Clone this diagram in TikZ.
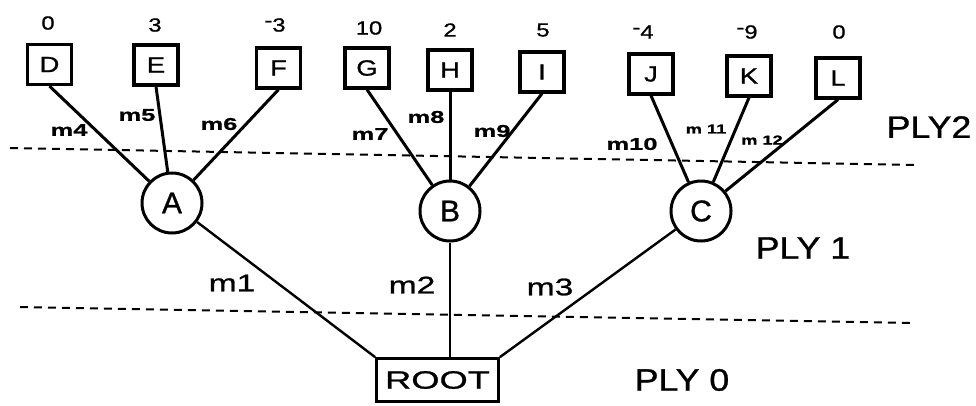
\documentclass[tikz,border=0pt]{standalone}
\usepackage{fontspec}
\setmainfont{Liberation Sans}
\newcommand{\stretchfont}[2]{\fontsize{#1}{#1}\selectfont\addfontfeature{FakeStretch=#2,FakeBold=1}}
\begin{document}
\begin{tikzpicture}[x=1pt,y=-1pt,
  leaf/.style={draw, line width=3.2pt, minimum width=44pt, minimum height=40pt, inner sep=0pt, font=\stretchfont{22}{1.25}},
  state/.style={draw, circle, line width=3pt, minimum size=60pt, inner sep=0pt, font=\stretchfont{30}{1.0}},
  rootbox/.style={draw, line width=2.8pt, minimum width=122pt, minimum height=43pt, inner sep=0pt, font=\stretchfont{25}{1.45}},
  edgeline/.style={line width=3pt},
  lowedge/.style={line width=2.4pt},
  val/.style={font=\stretchfont{19}{1.25}},
  mlab/.style={font=\bfseries\stretchfont{17}{1.5}},
  msmall/.style={font=\bfseries\stretchfont{13}{1.4}},
  mbig/.style={font=\stretchfont{24}{1.4}},
  plylab/.style={font=\stretchfont{31}{1.15}},
  plyline/.style={line width=2pt, dash pattern=on 8pt off 6pt}
]
\useasboundingbox (0,0) rectangle (976,405);

% ply separators
\coordinate (u1) at (10,148);
\coordinate (u2) at (915,165);
\coordinate (l1) at (20,307);
\coordinate (l2) at (913,323);
\draw[plyline] (u1) -- (u2);
\draw[plyline] (l1) -- (l2);

% leaves
\node[leaf] (D) at (49.5,64.5) {D};
\node[leaf] (E) at (156,65) {E};
\node[leaf] (F) at (278.5,68) {F};
\node[leaf] (G) at (367,68) {G};
\node[leaf] (H) at (450,70) {H};
\node[leaf] (I) at (542,72) {I};
\node[leaf] (J) at (651,74) {J};
\node[leaf] (K) at (749,76) {K};
\node[leaf] (L) at (838,78) {L};

% values
\node[val] (vD) at (48,23) {0};
\node[val] (vE) at (155,25) {3};
\node[val] (vF) at (275,25) {\raisebox{0.25em}{-}3};
\node[val] (vG) at (369,28) {10};
\node[val] (vH) at (450,30) {2};
\node[val] (vI) at (543,30) {5};
\node[val] (vJ) at (643,32) {\raisebox{0.25em}{-}4};
\node[val] (vK) at (747,32) {\raisebox{0.25em}{-}9};
\node[val] (vL) at (839,32) {0};

% ply-1 states
\node[state] (A) at (172,203) {A};
\node[state] (B) at (450,211) {B};
\node[state] (C) at (701,211) {C};

% root
\node[rootbox] (R) at (437.5,380) {ROOT};

% edges leaves -> states
\draw[edgeline] (D.south) -- (A);
\draw[edgeline] (E.south) -- (A);
\draw[edgeline] (F.south) -- (A);
\draw[edgeline] (G.south) -- (B);
\draw[edgeline] (H.south) -- (B.north);
\draw[edgeline] (I.south) -- (B);
\draw[edgeline] (J.south) -- (C);
\draw[edgeline] (K.south) -- (C);
\draw[edgeline] (L.south) -- (C);

% edges states -> root
\draw[lowedge] (A) -- (R.north west);
\draw[lowedge] (B.south) -- (B.south |- R.north);
\draw[lowedge] (C) -- (R.north east);

% move labels
\node[mlab] (m4) at (69,130) {m4};
\node[mlab] (m5) at (137,115) {m5};
\node[mlab] (m6) at (219,124) {m6};
\node[mlab] (m7) at (370,134) {m7};
\node[mlab] (m8) at (426,117) {m8};
\node[mlab] (m9) at (492,131) {m9};
\node[mlab] (m10) at (632,144) {m10};
\node[msmall] (m11) at (706,129) {m 11};
\node[msmall] (m12) at (762,140) {m 12};
\node[mbig] (m1) at (232,283) {m1};
\node[mbig] (m2) at (412,285) {m2};
\node[mbig] (m3) at (550,287) {m3};

% ply labels
\node[plylab] (p2) at (929,127) {PLY2};
\node[plylab] (p1) at (803,248) {PLY 1};
\node[plylab] (p0) at (682,380) {PLY 0};
\end{tikzpicture}
\end{document}
